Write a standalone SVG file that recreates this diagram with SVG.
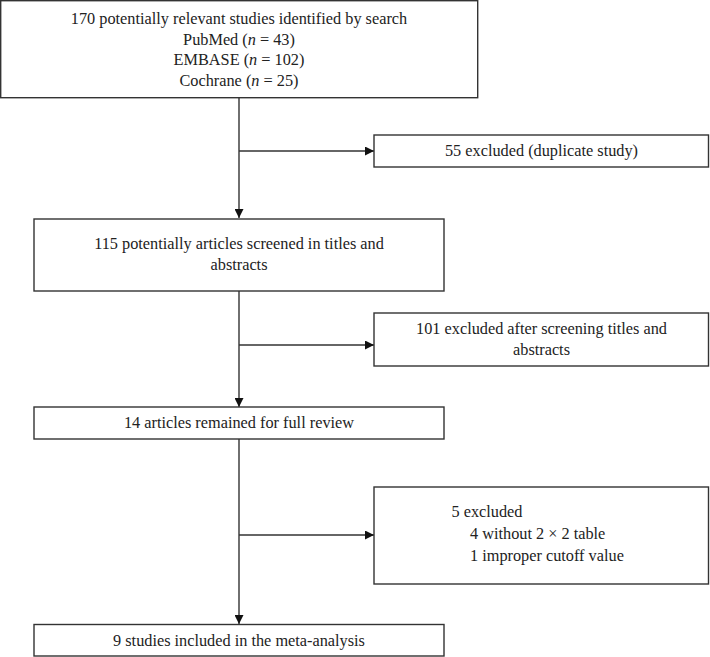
<svg xmlns="http://www.w3.org/2000/svg" width="710" height="657" viewBox="0 0 710 657">
<style>
.box{fill:#fff;stroke:#333;stroke-width:1.4}
.t{font-family:"Liberation Serif","Times New Roman",serif;font-size:16.3px;fill:#222}
.c{text-anchor:middle}
.ln{stroke:#333;stroke-width:1.4;fill:none}
</style>
<defs>
<marker id="ah" markerWidth="9" markerHeight="9" refX="9" refY="4.5" orient="auto" markerUnits="userSpaceOnUse">
<path d="M0,0 L9,4.5 L0,9 Z" fill="#111"/>
</marker>
</defs>
<rect width="710" height="657" fill="#fff"/>
<g id="connectors">
<path class="ln" d="M239,98 V218" marker-end="url(#ah)"/>
<path class="ln" d="M239,151 H374" marker-end="url(#ah)"/>
<path class="ln" d="M239,291 V407" marker-end="url(#ah)"/>
<path class="ln" d="M239,345 H374" marker-end="url(#ah)"/>
<path class="ln" d="M239,439 V624" marker-end="url(#ah)"/>
<path class="ln" d="M239,535 H374" marker-end="url(#ah)"/>
</g>
<g id="n1">
<rect class="box" x="0.7" y="0.7" width="477" height="97"/>
<text class="t c" x="239" y="24">170 potentially relevant studies identified by search</text>
<text class="t c" x="239" y="44.5">PubMed (<tspan font-style="italic">n</tspan> = 43)</text>
<text class="t c" x="239" y="65">EMBASE (<tspan font-style="italic">n</tspan> = 102)</text>
<text class="t c" x="239" y="85.5">Cochrane (<tspan font-style="italic">n</tspan> = 25)</text>
</g>
<g id="n2">
<rect class="box" x="374" y="135" width="334.5" height="32"/>
<text class="t c" x="541.5" y="156">55 excluded (duplicate study)</text>
</g>
<g id="n3">
<rect class="box" x="34" y="219" width="410" height="72"/>
<text class="t c" x="239" y="249">115 potentially articles screened in titles and</text>
<text class="t c" x="239" y="269.5">abstracts</text>
</g>
<g id="n4">
<rect class="box" x="374" y="313" width="334.5" height="53"/>
<text class="t c" x="541.5" y="334">101 excluded after screening titles and</text>
<text class="t c" x="541.5" y="354.5">abstracts</text>
</g>
<g id="n5">
<rect class="box" x="34" y="407" width="410" height="32"/>
<text class="t c" x="239" y="427.5">14 articles remained for full review</text>
</g>
<g id="n6">
<rect class="box" x="374" y="487" width="334.5" height="97"/>
<text class="t" x="451.5" y="517">5 excluded</text>
<text class="t" x="470" y="539">4 without 2 × 2 table</text>
<text class="t" x="470" y="561">1 improper cutoff value</text>
</g>
<g id="n7">
<rect class="box" x="34" y="624.5" width="410" height="31.5"/>
<text class="t c" x="239" y="645.5">9 studies included in the meta-analysis</text>
</g>
</svg>
